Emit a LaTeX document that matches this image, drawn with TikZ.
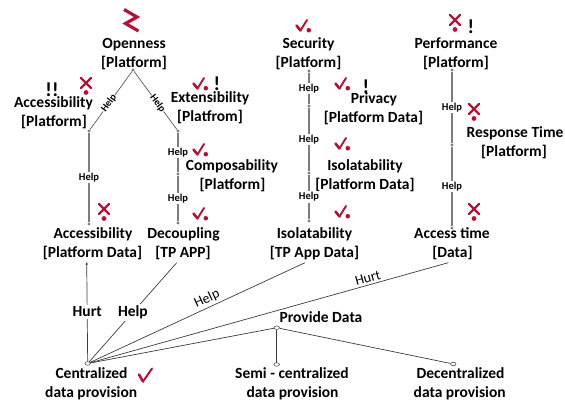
\documentclass[tikz,border=0pt]{standalone}
\usepackage{fontspec}
\setmainfont{Carlito}
\usetikzlibrary{arrows.meta,shapes.geometric}
\definecolor{symred}{RGB}{176,20,56}
\definecolor{linkgray}{RGB}{125,125,125}
\definecolor{edgegray}{RGB}{60,60,60}
\tikzset{
  goal/.style={font=\bfseries\fontsize{15.5}{19}\selectfont, inner sep=0pt, anchor=base},
  bang/.style={font=\bfseries\fontsize{20}{22}\selectfont, inner sep=0pt, anchor=base},
  ctag/.style={font=\bfseries\fontsize{10.5}{12}\selectfont, fill=white, inner sep=1pt},
  slantag/.style={font=\bfseries\fontsize{10}{11}\selectfont, fill=white, inner sep=0.3pt, sloped},
  bigtag/.style={font=\bfseries\fontsize{15.5}{19}\selectfont, fill=white, inner sep=2pt},
  linetag/.style={font=\fontsize{14}{16}\selectfont, sloped, above, inner sep=2pt},
  dotpt/.style={circle, fill=linkgray, inner sep=0pt, minimum size=3.2pt},
  holpt/.style={ellipse, draw=edgegray, fill=white, line width=0.5pt, inner sep=0pt, minimum width=5.5pt, minimum height=3.5pt},
  contrib/.style={draw=linkgray, line width=1.1pt},
  branch/.style={draw=edgegray!85, line width=0.7pt},
  corr/.style={draw=edgegray, line width=0.7pt},
  satdot/.pic={
    \draw[symred, line width=2.6pt, line cap=round, line join=round] (-5.5,-0.5) -- (-1.5,4.5);
    \draw[symred, line width=1.9pt, line cap=round] (-1.5,4.5) -- (5,-6);
    \fill[symred] (6.8,4.2) circle (2.3pt);
  },
  dendot/.pic={
    \draw[symred, line width=2.4pt, line cap=round] (-5,-5) -- (5,5) (-5,5) -- (5,-5);
    \fill[symred] (0,9.5) circle (2.4pt);
  }
}
\begin{document}
\begin{tikzpicture}[x=1pt,y=-1pt]
\path[use as bounding box] (0,0) rectangle (565,402);

% ---- Openness tree ----
\draw[symred, line width=3.2pt, line join=miter, line cap=butt] (124,9.5) -- (137,17) -- (125.5,23.5) -- (138.5,31);
\node[goal] (openA) at (134,48) {Openness};
\node[goal] (openB) at (134,67) {[Platform]};

\node[goal] (accTA) at (53.5,107) {Accessibility};
\node[goal] (accTB) at (54,126) {[Platform]};
\node[bang] (accTbang) at (52,96) {!!};
\pic at (86,83) {dendot};

\node[goal] (extA) at (210,102) {Extensibility};
\node[goal] (extB) at (210,121) {[Platfrom]};
\pic at (199,84) {satdot};
\node[bang] (extbang) at (217,90) {!};

\node[goal] (compA) at (232,170) {Composability};
\node[goal] (compB) at (232.5,189) {[Platform]};
\pic at (199,150) {satdot};

\node[goal] (accDA) at (93,238) {Accessibility};
\node[goal] (accDB) at (92.5,257) {[Platform Data]};
\pic at (104,209) {dendot};

\node[goal] (decA) at (183.5,238) {Decoupling};
\node[goal] (decB) at (183,257) {[TP APP]};
\pic at (199,214) {satdot};

\node[dotpt] (pO) at (133,70) {};
\node[dotpt] (pAccT) at (89,131) {};
\node[dotpt] (pExt) at (178,131) {};
\node[dotpt] (pAccD) at (89,224) {};
\node[dotpt] (pComp) at (178,174) {};
\node[dotpt] (pDec) at (178,223) {};

\path[branch] (pAccT) -- node[slantag, pos=0.45] {Help} (pO);
\path[branch] (pO) -- node[slantag, pos=0.55] {Help} (pExt);
\path[contrib] (pAccT) -- node[ctag] {Help} (pAccD);
\path[contrib] (pExt) -- node[ctag] {Help} (pComp);
\path[contrib] (pComp) -- node[ctag] {Help} (pDec);

% ---- Security tree ----
\pic at (302,26) {satdot};
\node[goal] (secA) at (308.5,48) {Security};
\node[goal] (secB) at (308.5,67) {[Platform]};

\pic at (341,84) {satdot};
\node[bang] (privbang) at (366,93) {!};
\node[goal] (privA) at (374,103.5) {Privacy};
\node[goal] (privB) at (373.5,122) {[Platform Data]};

\pic at (341,144) {satdot};
\node[goal] (isoPA) at (365,170) {Isolatability};
\node[goal] (isoPB) at (365,189) {[Platform Data]};

\pic at (341,212) {satdot};
\node[goal] (isoTA) at (314.5,238) {Isolatability};
\node[goal] (isoTB) at (314.5,257) {[TP App Data]};

\node[dotpt] (pSec) at (309,71) {};
\node[dotpt] (pPriv) at (309,106) {};
\node[dotpt] (pIsoP) at (309,173) {};
\node[dotpt] (pIsoT) at (309,221) {};
\path[contrib] (pSec) -- node[ctag] {Help} (pPriv);
\path[contrib] (pPriv) -- node[ctag] {Help} (pIsoP);
\path[contrib] (pIsoP) -- node[ctag] {Help} (pIsoT);

% ---- Performance tree ----
\pic at (455,20) {dendot};
\node[bang] (perfbang) at (471,33) {!};
\node[goal] (perfA) at (456,48) {Performance};
\node[goal] (perfB) at (456,67) {[Platform]};

\pic at (474,109) {dendot};
\node[goal] (respA) at (515,137) {Response Time};
\node[goal] (respB) at (514,156) {[Platform]};

\pic at (474,209) {dendot};
\node[goal] (accA) at (452,238) {Access time};
\node[goal] (accB) at (452.5,257) {[Data]};

\node[dotpt] (pPerf) at (452,70) {};
\node[dotpt] (pResp) at (452,145) {};
\node[dotpt] (pAcc) at (452,228) {};
\path[contrib] (pPerf) -- node[ctag] {Help} (pResp);
\path[contrib] (pResp) -- node[ctag] {Help} (pAcc);

% ---- data provision alternatives ----
\coordinate (tAccD) at (86.7,262);
\coordinate (tDec) at (176.7,262.7);
\coordinate (tIsoT) at (305,262.7);
\coordinate (tAcc) at (448.3,262.7);

\node[holpt] (C) at (87.7,363.5) {};
\node[holpt] (P) at (276.7,327.7) {};
\node[holpt] (S) at (276.7,364.5) {};
\node[holpt] (D) at (453.3,364) {};

\draw[corr, -{Stealth[length=3pt,width=2.4pt]}] (C) -- node[bigtag, pos=0.5] {Hurt} (tAccD);
\draw[corr] (C) -- node[bigtag, pos=0.5] {Help} (tDec);
\draw[corr] (C) -- node[linetag, pos=0.56] {Help} (tIsoT);
\draw[corr] (C) -- node[linetag, pos=0.78] {Hurt} (tAcc);
\draw[corr] (C) -- (P);
\draw[corr] (P) -- (S);
\draw[corr] (P) -- (D);
\node[goal] (provide) at (321,322.7) {Provide Data};

\node[goal] (cenA) at (91.5,378.5) {Centralized};
\node[goal] (cenB) at (91.2,397) {data provision};
\draw[symred, line width=2.6pt, line cap=round, line join=round] (139,374.5) -- (143,381.5);
\draw[symred, line width=2pt, line cap=round] (143,381.5) -- (152,368.5);

\node[goal] (semA) at (292,378.5) {Semi - centralized};
\node[goal] (semB) at (292.5,397) {data provision};

\node[goal] (decenA) at (460.5,378.5) {Decentralized};
\node[goal] (decenB) at (459.7,397) {data provision};
\end{tikzpicture}
\end{document}
